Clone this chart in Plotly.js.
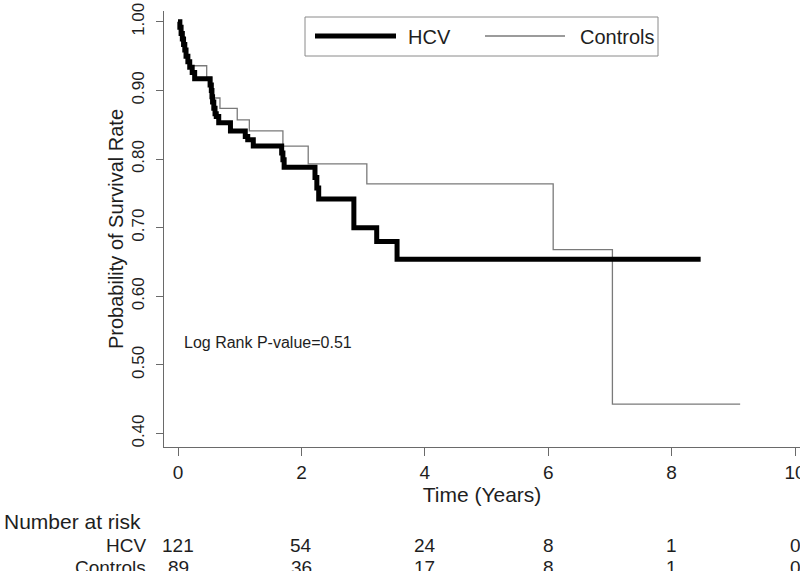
<!DOCTYPE html>
<html>
<head>
<meta charset="utf-8">
<script src="https://cdn.plot.ly/plotly-3.0.1.min.js"></script>
<style>
  html, body { margin: 0; padding: 0; background: #fff; overflow: hidden; }
  #chart { width: 800px; height: 571px; }
</style>
</head>
<body>
<div id="chart"></div>
<script>
// ---- Data ----
const hcvTime = [0, 0.03, 0.05, 0.07, 0.09, 0.11, 0.13, 0.16, 0.19, 0.23, 0.27, 0.52, 0.54, 0.55, 0.56, 0.58, 0.60, 0.62, 0.66, 0.85, 1.09, 1.13, 1.22, 1.68, 1.70, 1.72, 2.22, 2.25, 2.28, 2.85, 3.22, 3.55, 8.47];
const hcvSurv = [1.0, 0.992, 0.983, 0.975, 0.967, 0.959, 0.950, 0.942, 0.934, 0.926, 0.917, 0.908, 0.900, 0.891, 0.883, 0.874, 0.866, 0.862, 0.853, 0.841, 0.833, 0.828, 0.819, 0.809, 0.799, 0.788, 0.773, 0.758, 0.742, 0.700, 0.680, 0.654, 0.654];

const ctrlTime = [0, 0.04, 0.07, 0.10, 0.13, 0.15, 0.18, 0.465, 0.546, 0.68, 0.96, 1.156, 1.70, 2.11, 3.06, 6.08, 7.04, 9.11];
const ctrlSurv = [1.0, 0.989, 0.978, 0.966, 0.955, 0.944, 0.936, 0.919, 0.889, 0.874, 0.857, 0.841, 0.819, 0.793, 0.764, 0.668, 0.443, 0.443];

const seriesNames = ["HCV", "Controls"];
const xTicks = [0, 2, 4, 6, 8, 10];
const yTicks = [0.40, 0.50, 0.60, 0.70, 0.80, 0.90, 1.00];
const yTickText = ["0.40", "0.50", "0.60", "0.70", "0.80", "0.90", "1.00"];

const riskTimes = [0, 2, 4, 6, 8, 10];
const riskHCV = [121, 54, 24, 8, 1, 0];
const riskControls = [89, 36, 17, 8, 1, 0];

const pValueText = "Log Rank P-value=0.51";

// ---- Layout geometry helpers (pixel -> paper) ----
const W = 800, H = 571;
const M = { l: 164, r: 0, t: 11, b: 124 };
const plotW = W - M.l - M.r, plotH = H - M.t - M.b;
const px = x => (x - M.l) / plotW;
const py = y => (H - M.b - y) / plotH;

const FONT = "Liberation Sans, Arial, Helvetica, sans-serif";
const TXT = "#1e1e1e";
const AXC = "#6a6a6a";

const traces = [
  {
    x: ctrlTime, y: ctrlSurv, name: seriesNames[1], type: "scatter", mode: "lines",
    line: { shape: "hv", color: "#7a7a7a", width: 1.3 }, showlegend: false
  },
  {
    x: hcvTime, y: hcvSurv, name: seriesNames[0], type: "scatter", mode: "lines",
    line: { shape: "hv", color: "#000000", width: 5 }, showlegend: false
  }
];

const ROW1 = 545, ROW2 = 567, RISK_SIZE = 19;

const annotations = [];
annotations.push({
  x: 0.065, y: 0.533, xref: "x", yref: "y", text: pValueText, showarrow: false,
  xanchor: "left", yanchor: "middle", font: { family: FONT, size: 16, color: TXT }
});
// risk table
annotations.push({
  x: px(2), y: py(521), xref: "paper", yref: "paper", text: "Number at risk", showarrow: false,
  xanchor: "left", yanchor: "middle", font: { family: FONT, size: 21, color: TXT }
});
annotations.push({
  x: px(147), y: py(ROW1), xref: "paper", yref: "paper", text: seriesNames[0], showarrow: false,
  xanchor: "right", yanchor: "middle", borderpad: 0, font: { family: FONT, size: RISK_SIZE, color: TXT }
});
annotations.push({
  x: px(147), y: py(ROW2), xref: "paper", yref: "paper", text: seriesNames[1], showarrow: false,
  xanchor: "right", yanchor: "middle", borderpad: 0, font: { family: FONT, size: RISK_SIZE, color: TXT }
});
riskTimes.forEach((t, i) => {
  annotations.push({
    x: t, y: py(ROW1), xref: "x", yref: "paper", text: String(riskHCV[i]), showarrow: false,
    xanchor: "center", yanchor: "middle", borderpad: 0, font: { family: FONT, size: RISK_SIZE, color: TXT }
  });
  annotations.push({
    x: t, y: py(ROW2), xref: "x", yref: "paper", text: String(riskControls[i]), showarrow: false,
    xanchor: "center", yanchor: "middle", borderpad: 0, font: { family: FONT, size: RISK_SIZE, color: TXT }
  });
});
// legend labels
annotations.push({
  x: px(406), y: py(37), xref: "paper", yref: "paper", text: seriesNames[0], showarrow: false,
  xanchor: "left", yanchor: "middle", font: { family: FONT, size: 20, color: TXT }
});
annotations.push({
  x: px(578), y: py(37), xref: "paper", yref: "paper", text: seriesNames[1], showarrow: false,
  xanchor: "left", yanchor: "middle", font: { family: FONT, size: 20, color: TXT }
});

const shapes = [
  { type: "rect", xref: "paper", yref: "paper", x0: px(305), x1: px(658), y0: py(17), y1: py(56),
    line: { color: "#8a8a8a", width: 1 }, fillcolor: "rgba(255,255,255,1)", layer: "above" },
  { type: "line", xref: "paper", yref: "paper", x0: px(315), x1: px(396), y0: py(36), y1: py(36),
    line: { color: "#000", width: 5 } },
  { type: "line", xref: "paper", yref: "paper", x0: px(485), x1: px(565), y0: py(36), y1: py(36),
    line: { color: "#7a7a7a", width: 1.3 } }
];

const layout = {
  width: W, height: H,
  margin: M,
  paper_bgcolor: "#fff", plot_bgcolor: "#fff",
  font: { family: FONT, color: TXT },
  showlegend: false,
  xaxis: {
    range: [-0.227, 10.08], tickvals: xTicks, ticktext: xTicks.map(String),
    ticklabeloverflow: "allow",
    showline: true, linecolor: AXC, linewidth: 1, ticks: "outside", ticklen: 8, tickcolor: AXC,
    showgrid: false, zeroline: false, tickfont: { family: FONT, size: 19, color: TXT },
    title: { text: "Time (Years)", font: { family: FONT, size: 21, color: TXT }, standoff: 0 }
  },
  yaxis: {
    range: [0.3804, 1.0158], tickvals: yTicks, ticktext: yTickText, tickangle: -90,
    ticklabelstandoff: 5,
    showline: true, linecolor: AXC, linewidth: 1, ticks: "outside", ticklen: 7, tickcolor: AXC,
    showgrid: false, zeroline: false, tickfont: { family: FONT, size: 17, color: TXT },
    title: { text: "Probability of Survival Rate", font: { family: FONT, size: 20, color: TXT }, standoff: 0 }
  },
  annotations: annotations,
  shapes: shapes
};

Plotly.newPlot("chart", traces, layout, { displayModeBar: false, staticPlot: true });
</script>
</body>
</html>
